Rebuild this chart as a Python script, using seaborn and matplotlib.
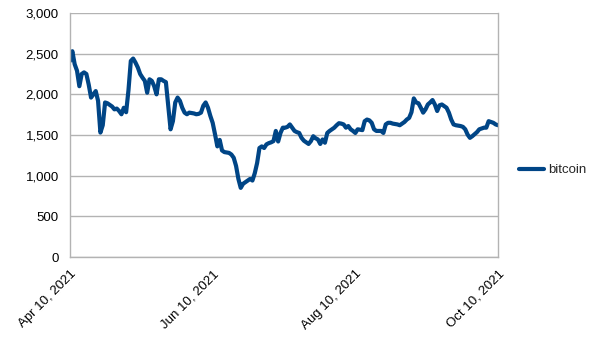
import matplotlib
matplotlib.use("Agg")
import matplotlib.pyplot as plt
import matplotlib.dates as mdates
from matplotlib.ticker import FuncFormatter
import pandas as pd
import seaborn as sns

start_date = "2021-04-10"
series_name = "bitcoin"
bitcoin = [
    2410, 2530, 2370, 2290, 2100, 2250, 2270, 2250, 2120, 1960,
    2000, 2040, 1920, 1530, 1620, 1900, 1890, 1870, 1850, 1815,
    1825, 1795, 1755, 1835, 1780, 2050, 2410, 2440, 2390, 2330,
    2250, 2205, 2165, 2020, 2185, 2165, 2100, 2000, 2185, 2185,
    2165, 2150, 1860, 1570, 1670, 1900, 1960, 1920, 1835, 1775,
    1755, 1775, 1770, 1765, 1755, 1760, 1775, 1860, 1900, 1835,
    1735, 1650, 1510, 1360, 1440, 1310, 1290, 1285, 1280, 1260,
    1220, 1120, 960, 850, 900, 920, 940, 960, 940, 1030,
    1155, 1340, 1360, 1340, 1385, 1400, 1410, 1425, 1550, 1420,
    1525, 1590, 1590, 1600, 1630, 1590, 1550, 1535, 1525, 1465,
    1430, 1410, 1390, 1425, 1485, 1460, 1445, 1390, 1445, 1405,
    1525, 1550, 1570, 1590, 1620, 1645, 1640, 1630, 1590, 1610,
    1570, 1550, 1525, 1570, 1565, 1560, 1670, 1690, 1680, 1650,
    1570, 1550, 1550, 1550, 1525, 1630, 1650, 1650, 1640, 1635,
    1630, 1620, 1640, 1660, 1690, 1710, 1780, 1950, 1900, 1890,
    1835, 1775, 1815, 1875, 1900, 1930, 1875, 1795, 1865, 1875,
    1855, 1835, 1775, 1690, 1630, 1620, 1615, 1610, 1600, 1570,
    1505, 1465, 1485, 1510, 1535, 1570, 1580, 1590, 1590, 1670,
    1660, 1650, 1630, 1620,
]
x_ticks = ["2021-04-10", "2021-06-10", "2021-08-10", "2021-10-10"]
y_ticks = [0, 500, 1000, 1500, 2000, 2500, 3000]

dates = pd.date_range(start_date, periods=len(bitcoin), freq="D")
df = pd.DataFrame({"date": dates, "value": bitcoin, "series": series_name})

sns.set_style("white")
plt.rcParams["font.family"] = ["Liberation Sans", "DejaVu Sans"]

LINE = "#004586"
GRID = "#b3b3b3"

fig = plt.figure(figsize=(6.05, 3.40), dpi=100)
ax = fig.add_axes([70 / 605, 1 - 257 / 340, 428 / 605, 244 / 340])

sns.lineplot(data=df, x="date", y="value", hue="series", palette=[LINE],
             linewidth=3.0, ax=ax, legend=True)

ax.set_xlim(pd.Timestamp(x_ticks[0]), pd.Timestamp(x_ticks[-1]))
ax.set_ylim(y_ticks[0], y_ticks[-1])
ax.set_yticks(y_ticks)
ax.yaxis.set_major_formatter(FuncFormatter(lambda v, p: f"{int(v):,}"))
ax.set_xticks([pd.Timestamp(t) for t in x_ticks])
ax.xaxis.set_major_formatter(mdates.DateFormatter("%b %d, %Y"))
for lbl in ax.get_xticklabels():
    lbl.set_rotation(45)
    lbl.set_ha("right")
    lbl.set_rotation_mode("anchor")

ax.grid(axis="y", color=GRID, linewidth=1.0)
ax.set_axisbelow(True)
for side in ["left", "bottom", "right"]:
    ax.spines[side].set_color(GRID)
    ax.spines[side].set_linewidth(1.0)
ax.spines["top"].set_visible(False)
ax.tick_params(axis="both", which="major", direction="out", length=5,
               color=GRID, width=1.0, labelsize=9.5, labelcolor="#000000", pad=3)
ax.set_xlabel("")
ax.set_ylabel("")

ax.get_legend().remove()
handles, labels = ax.get_legend_handles_labels()
fig.legend(handles, labels, loc="center left", bbox_to_anchor=(507 / 605, 0.5),
           frameon=False, fontsize=9.5, handlelength=1.9, handletextpad=0.3)

fig.savefig("out.png", dpi=100)
